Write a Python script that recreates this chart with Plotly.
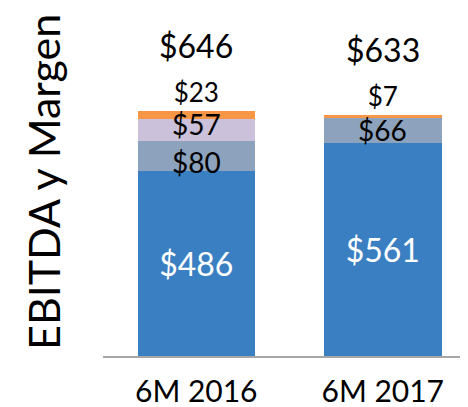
import plotly.graph_objects as go

categories = ["6M 2016", "6M 2017"]
base_vals = [486, 561]        # blue
second_vals = [80, 66]        # gray-blue
third_vals = [57, 0]          # lavender
top_vals = [23, 7]            # orange
totals = [646, 633]

FONT = "Lato"
blue = "#3A7FC2"
grayblue = "#8DA3BD"
lavender = "#CBC1DA"
orange = "#F79646"

fig = go.Figure()
fig.add_bar(x=categories, y=base_vals, marker_color=blue, text=[f"${v}" for v in base_vals],
            textposition="inside", insidetextanchor="middle",
            textfont=dict(family=FONT, size=32, color="white"))
fig.add_bar(x=categories, y=second_vals, marker_color=grayblue, hoverinfo="y")
fig.add_bar(x=categories, y=third_vals, marker_color=lavender, hoverinfo="y")
fig.add_bar(x=categories, y=top_vals, marker_color=orange, text=[f"${v}" for v in top_vals],
            textposition="outside",
            textfont=dict(family=FONT, size=26, color="black"))

fig.update_traces(marker_line_width=0, constraintext="none", cliponaxis=False, textangle=0)

# labels of the middle segments, placed at the middle of each segment
for i, cat in enumerate(categories):
    b, s, t = base_vals[i], second_vals[i], third_vals[i]
    has_third = t > 0
    fig.add_annotation(x=cat, y=b + s / 2, text=f"${s}", showarrow=False,
                       yshift=-6 if has_third else 0,
                       font=dict(family=FONT, size=28, color="black"))
    if has_third:
        fig.add_annotation(x=cat, y=b + s + t / 2, text=f"${t}", showarrow=False, yshift=6,
                           font=dict(family=FONT, size=28, color="black"))

stack_tops = [a + b + c + d for a, b, c, d in zip(base_vals, second_vals, third_vals, top_vals)]
for cat, top, tot in zip(categories, stack_tops, totals):
    fig.add_annotation(x=cat, y=top, text=f"${tot}", showarrow=False, yanchor="bottom",
                       yshift=44, font=dict(family=FONT, size=32, color="black"))

fig.add_annotation(xref="paper", yref="paper", x=-0.161, y=0.5, text="EBITDA y Margen",
                   textangle=-90, showarrow=False, xanchor="center", yanchor="middle",
                   font=dict(family=FONT, size=43, color="black"))

fig.update_layout(
    barmode="stack", bargap=0.37, showlegend=False,
    width=468, height=407,
    margin=dict(l=95, r=0, t=0, b=59),
    plot_bgcolor="white", paper_bgcolor="white",
)
fig.update_xaxes(showline=True, linecolor="#A6A6A6", linewidth=1.5, ticks="",
                 tickfont=dict(family=FONT, size=30, color="black"), ticklabelstandoff=8,
                 showgrid=False, zeroline=False)
fig.update_yaxes(range=[0, 916], visible=False, showgrid=False, zeroline=False)

fig.write_html("out.html")
